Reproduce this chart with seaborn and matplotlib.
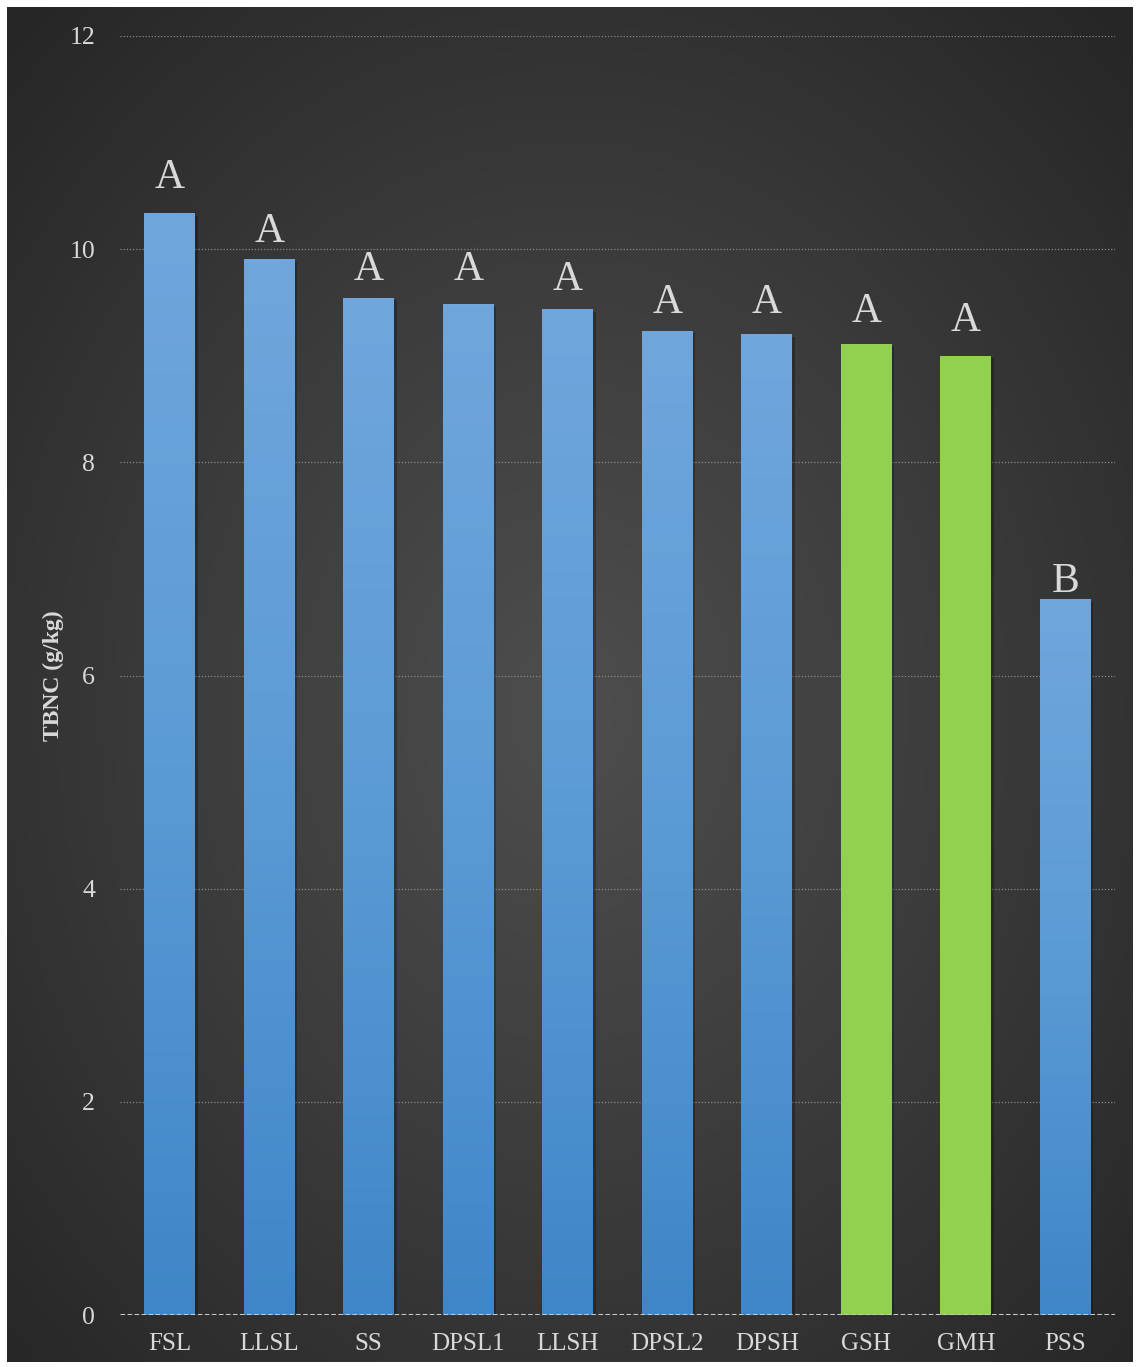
import numpy as np
import pandas as pd
import seaborn as sns
import matplotlib.pyplot as plt
from matplotlib.colors import LinearSegmentedColormap

# data
treatments = ["FSL", "LLSL", "SS", "DPSL1", "LLSH", "DPSL2", "DPSH", "GSH", "GMH", "PSS"]
tbnc = [10.33, 9.90, 9.54, 9.48, 9.43, 9.23, 9.20, 9.11, 9.00, 6.71]
letters = ["A", "A", "A", "A", "A", "A", "A", "A", "A", "B"]
is_green = [False, False, False, False, False, False, False, True, True, False]
y_ticks = [0, 2, 4, 6, 8, 10, 12]
# letters were placed by hand in the original, gap above each bar (points)
letter_gap = [18.7, 13, 13, 18, 14.4, 13, 15.1, 15.8, 18, 5.8]

df = pd.DataFrame({"treatment": treatments, "tbnc": tbnc})

sns.set_style("white")
plt.rcParams["font.family"] = ["Liberation Serif", "DejaVu Serif"]

fig = plt.figure(figsize=(11.38, 13.67), dpi=100, facecolor="white")

# dark radial background panel
bg = fig.add_axes([7 / 1138, 5 / 1367, 1126 / 1138, 1355 / 1367])
yy, xx = np.mgrid[0:1:400j, 0:1:400j]
r = np.sqrt(((xx - 0.5) / 0.75) ** 2 + ((yy - 0.52) / 0.75) ** 2)
r = np.clip(r / 0.95, 0, 1)
bg_cmap = LinearSegmentedColormap.from_list("bg", ["#4e4e4e", "#3b3b3b", "#262626"])
bg.imshow(r, cmap=bg_cmap, aspect="auto", extent=(0, 1, 0, 1), vmin=0, vmax=1)
bg.set_axis_off()

ax = fig.add_axes([120 / 1138, 1 - 1315 / 1367, 995 / 1138, 1279 / 1367])
ax.patch.set_alpha(0)

palette = ["#92d050" if g else "#5b9bd5" for g in is_green]
sns.barplot(data=df, x="treatment", y="tbnc", hue="treatment", palette=palette,
            legend=False, width=0.51, saturation=1, linewidth=0, edgecolor="none",
            ax=ax, zorder=3)

# vertical gradient on the blue bars, soft shadow behind every bar
blue_cmap = LinearSegmentedColormap.from_list("bar", ["#3f86c8", "#5b9bd5", "#70a6dc"])
grad = np.linspace(0, 1, 256).reshape(-1, 1)
for patch, green in zip(ax.patches, is_green):
    x0 = patch.get_x()
    w = patch.get_width()
    h = patch.get_height()
    ax.add_patch(plt.Rectangle((x0 + 0.025, -0.02), w, h, color="black",
                               alpha=0.25, lw=0, zorder=2))
    if green:
        continue
    patch.set_facecolor("none")
    ax.imshow(grad, cmap=blue_cmap, aspect="auto", origin="lower",
              extent=(x0, x0 + w, 0, h), zorder=3)

# significance letters
for i, (v, lab, gap) in enumerate(zip(tbnc, letters, letter_gap)):
    ax.annotate(lab, (i, v), xytext=(0, gap), textcoords="offset points",
                ha="center", va="baseline", fontsize=30, color="#d9d9d9")

ax.set_xlim(-0.5, len(treatments) - 0.5)
ax.set_ylim(0, 12)
ax.set_yticks(y_ticks)
ax.set_yticklabels([str(t) for t in y_ticks])

for t in y_ticks[1:]:
    ax.axhline(t, color="#8a8a8a", lw=0.9, ls=(0, (1, 1.5)), zorder=1)
ax.axhline(0, color="#c8c8c8", lw=2.2, ls=(0, (1.5, 0.8)), zorder=4)

ax.tick_params(axis="y", length=0, pad=18, labelsize=18.5, labelcolor="#d9d9d9")
ax.tick_params(axis="x", length=0, pad=13, labelsize=18, labelcolor="#d9d9d9")
ax.set_xlabel("")
ax.set_ylabel("TBNC (g/kg)", fontsize=17, fontweight="bold", color="#d9d9d9")
ax.yaxis.set_label_coords(-0.056, 0.5)
sns.despine(ax=ax, left=True, bottom=True)

fig.savefig("out.png", dpi=100, facecolor="white")
